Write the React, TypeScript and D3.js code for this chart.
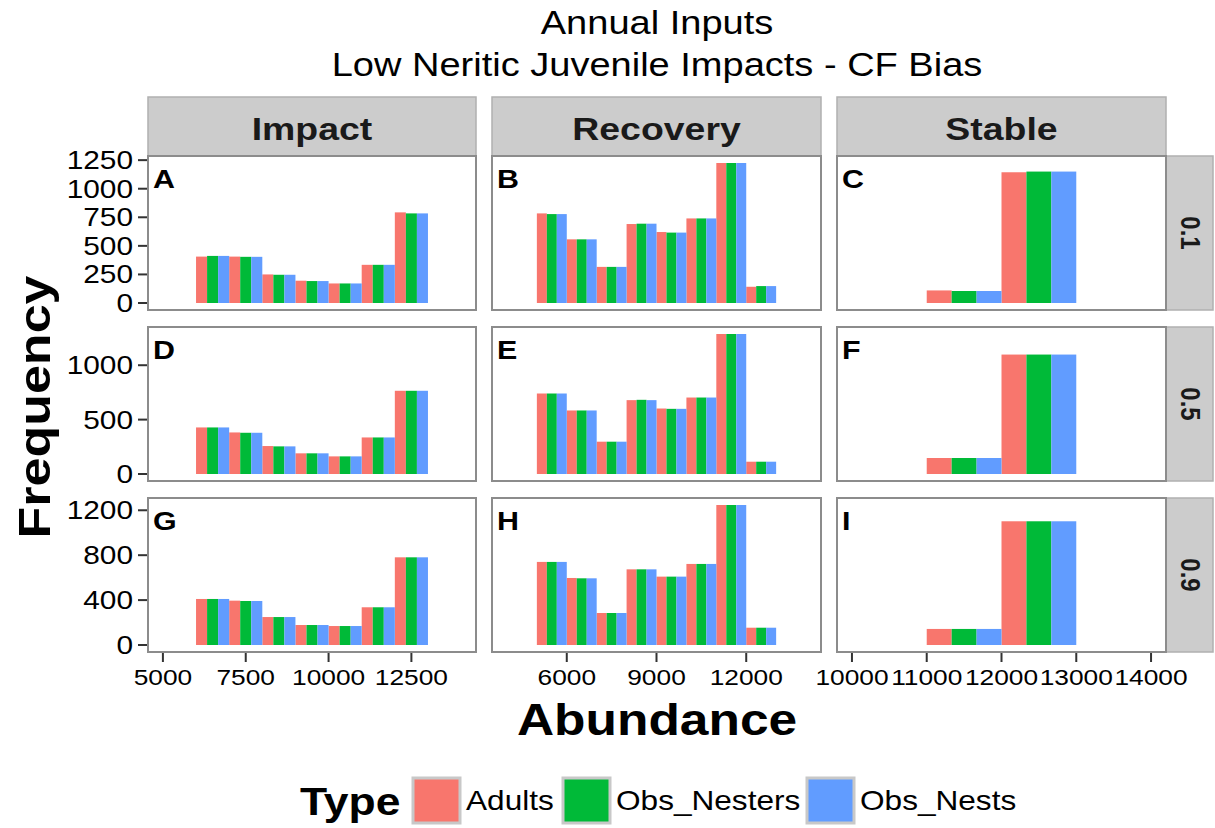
import React from "react";
import * as d3 from "d3";

// Categories
const types = ["Adults", "Obs_Nesters", "Obs_Nests"];
const typeColors = ["#F8766D", "#00BA38", "#619CFF"];
const scenarios = ["Impact", "Recovery", "Stable"];
const biasLevels = ["0.1", "0.5", "0.9"];
const panelLetters = [["A", "B", "C"], ["D", "E", "F"], ["G", "H", "I"]];

// Histogram bin starts (bin width 1000)
const binWidth = 1000;
const impactBins = [6000, 7000, 8000, 9000, 10000, 11000, 12000];
const recoveryBins = [5000, 6000, 7000, 8000, 9000, 10000, 11000, 12000];
const stableBins = [11000, 12000];

// Data range of each scenario column (free x scales)
const xRanges: [number, number][] = [[5000, 14000], [4000, 14000], [10000, 14000]];
const xTicks = [
  [5000, 7500, 10000, 12500],
  [6000, 9000, 12000],
  [10000, 11000, 12000, 13000, 14000],
];
const yTicks = [
  [0, 250, 500, 750, 1000, 1250],
  [0, 500, 1000],
  [0, 400, 800, 1200],
];

// Frequencies: [Adults, Obs_Nesters, Obs_Nests]
const impact01 = [
  [406, 406, 250, 195, 171, 334, 793],
  [412, 404, 247, 192, 171, 334, 784],
  [412, 404, 247, 192, 171, 334, 784],
];
const recovery01 = [
  [784, 557, 316, 691, 621, 740, 1225, 142],
  [778, 557, 316, 694, 616, 740, 1225, 148],
  [778, 557, 316, 694, 616, 740, 1225, 148],
];
const stable01 = [
  [110, 1144],
  [105, 1150],
  [105, 1150],
];
const impact05 = [
  [428, 382, 257, 190, 162, 336, 765],
  [428, 379, 254, 190, 162, 336, 765],
  [428, 379, 254, 190, 162, 336, 765],
];
const recovery05 = [
  [740, 584, 297, 679, 602, 703, 1287, 113],
  [740, 584, 297, 682, 599, 703, 1287, 113],
  [740, 584, 297, 679, 599, 703, 1287, 113],
];
const stable05 = [
  [147, 1098],
  [147, 1098],
  [147, 1098],
];
const impact09 = [
  [410, 395, 249, 178, 169, 336, 781],
  [410, 392, 249, 178, 169, 336, 781],
  [410, 392, 249, 178, 169, 336, 781],
];
const recovery09 = [
  [740, 597, 285, 674, 609, 722, 1247, 154],
  [740, 594, 285, 674, 609, 722, 1247, 154],
  [740, 594, 285, 674, 609, 722, 1247, 154],
];
const stable09 = [
  [143, 1102],
  [143, 1102],
  [143, 1102],
];

const binsByColumn = [impactBins, recoveryBins, stableBins];
const panelData = [
  [impact01, recovery01, stable01],
  [impact05, recovery05, stable05],
  [impact09, recovery09, stable09],
];

// Layout
const W = 1215;
const H = 828;
const colX: [number, number][] = [[148, 476], [492, 821], [837, 1166]];
const rowY: [number, number][] = [[156, 310], [327, 481], [498, 652]];
const stripTop = 97;
const stripRight = 1213;
const FONT = "'Liberation Sans', Arial, Helvetica, sans-serif";
const SX = 1.17; // horizontal stretch of glyphs

function expand([a, b]: [number, number]): [number, number] {
  const d = (b - a) * 0.05;
  return [a - d, b + d];
}

type STextProps = {
  x: number;
  y: number;
  children: React.ReactNode;
  size: number;
  weight?: string | number;
  anchor?: "start" | "middle" | "end";
  rotate?: number;
  fill?: string;
  sx?: number;
};

function SText({ x, y, children, size, weight = "normal", anchor = "start", rotate = 0, fill = "#000", sx = SX }: STextProps) {
  return (
    <text
      transform={`translate(${x},${y}) scale(${sx},1) rotate(${rotate})`}
      fontSize={size}
      fontWeight={weight}
      textAnchor={anchor}
      fontFamily={FONT}
      fill={fill}
    >
      {children}
    </text>
  );
}

export default function App() {
  const xScales = colX.map((r, c) => d3.scaleLinear().domain(expand(xRanges[c])).range(r));
  const yScales = rowY.map((r, ri) => {
    const maxV = d3.max(panelData[ri].flat(2) as number[]) as number;
    return d3.scaleLinear().domain(expand([0, maxV])).range([r[1], r[0]]);
  });

  const panels: React.ReactNode[] = [];
  rowY.forEach((ry, ri) => {
    colX.forEach((cx, ci) => {
      const x = xScales[ci];
      const y = yScales[ri];
      const bins = binsByColumn[ci];
      const series = panelData[ri][ci];
      const sub = d3.scaleBand<number>().domain(types.map((_, i) => i)).range([0, binWidth]);
      panels.push(
        <g key={`p${ri}${ci}`}>
          <rect x={cx[0]} y={ry[0]} width={cx[1] - cx[0]} height={ry[1] - ry[0]} fill="#fff" />
          {series.map((vals, ti) =>
            vals.map((v, bi) => {
              const x0 = x(bins[bi] + (sub(ti) as number));
              const x1 = x(bins[bi] + (sub(ti) as number) + sub.bandwidth());
              return (
                <rect
                  key={`b${ti}-${bi}`}
                  x={x0}
                  y={y(v)}
                  width={x1 - x0}
                  height={y(0) - y(v)}
                  fill={typeColors[ti]}
                />
              );
            })
          )}
          <rect
            x={cx[0]}
            y={ry[0]}
            width={cx[1] - cx[0]}
            height={ry[1] - ry[0]}
            fill="none"
            stroke="#8c8c8c"
            strokeWidth={2}
          />
          <SText x={cx[0] + 5} y={ry[0] + 32} size={26} weight="bold">
            {panelLetters[ri][ci]}
          </SText>
        </g>
      );
    });
  });

  return (
    <svg
      width={W}
      height={H}
      style={{ position: "absolute", left: 0, top: 0, background: "#fff" }}
    >
      <rect width={W} height={H} fill="#fff" />
      {/* Title */}
      <SText x={657} y={34} size={32.5} anchor="middle">Annual Inputs</SText>
      <SText x={657} y={76} size={32.5} anchor="middle">Low Neritic Juvenile Impacts - CF Bias</SText>

      {/* Column strips */}
      {scenarios.map((s, ci) => (
        <g key={s}>
          <rect
            x={colX[ci][0]}
            y={stripTop}
            width={colX[ci][1] - colX[ci][0]}
            height={rowY[0][0] - stripTop}
            fill="#cccccc"
            stroke="#b0b0b0"
            strokeWidth={1.5}
          />
          <SText x={(colX[ci][0] + colX[ci][1]) / 2} y={140} size={32} weight="bold" anchor="middle" fill="#1a1a1a">
            {s}
          </SText>
        </g>
      ))}

      {/* Row strips */}
      {biasLevels.map((b, ri) => (
        <g key={b}>
          <rect
            x={colX[2][1]}
            y={rowY[ri][0]}
            width={stripRight - colX[2][1]}
            height={rowY[ri][1] - rowY[ri][0]}
            fill="#cccccc"
            stroke="#b0b0b0"
            strokeWidth={1.5}
          />
          <SText
            x={(colX[2][1] + stripRight) / 2 - 9}
            y={(rowY[ri][0] + rowY[ri][1]) / 2}
            size={24}
            weight="bold"
            anchor="middle"
            rotate={90}
            fill="#1a1a1a"
          >
            {b}
          </SText>
        </g>
      ))}

      {panels}

      {/* Y axes */}
      {rowY.map((ry, ri) => (
        <g key={`ya${ri}`}>
          {yTicks[ri].map((t) => (
            <g key={t}>
              <line x1={138} x2={147} y1={yScales[ri](t)} y2={yScales[ri](t)} stroke="#333" strokeWidth={2} />
              <SText x={133} y={yScales[ri](t) + 9} size={25.5} anchor="end">
                {t}
              </SText>
            </g>
          ))}
        </g>
      ))}

      {/* X axes */}
      {colX.map((cx, ci) => (
        <g key={`xa${ci}`}>
          {xTicks[ci].map((t) => (
            <g key={t}>
              <line x1={xScales[ci](t)} x2={xScales[ci](t)} y1={653} y2={662} stroke="#333" strokeWidth={2} />
              <SText x={xScales[ci](t)} y={685} size={22.5} anchor="middle">
                {t}
              </SText>
            </g>
          ))}
        </g>
      ))}

      {/* Axis titles */}
      <SText x={657} y={735} size={44} weight="bold" anchor="middle">Abundance</SText>
      <SText x={50} y={407} size={52} weight="bold" anchor="middle" rotate={-90} sx={0.86}>Frequency</SText>

      {/* Legend */}
      <SText x={300} y={815} size={38} weight="bold">Type</SText>
      {types.map((t, i) => {
        const kx = [413, 563, 807][i];
        return (
          <g key={t}>
            <rect x={kx} y={778} width={47} height={45} fill={typeColors[i]} stroke="#c8c8c8" strokeWidth={3} />
            <SText x={kx + 53} y={810} size={27}>{t}</SText>
          </g>
        );
      })}
    </svg>
  );
}
